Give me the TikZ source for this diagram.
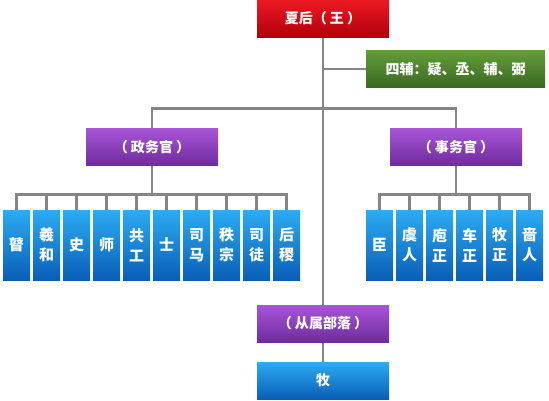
\documentclass[tikz,border=0pt]{standalone}
\usepackage{fontspec}
\setmainfont{Noto Sans CJK SC}
\usetikzlibrary{backgrounds}
\definecolor{redT}{HTML}{EC1A22}
\definecolor{redB}{HTML}{B0000C}
\definecolor{grnT}{HTML}{629C3C}
\definecolor{grnB}{HTML}{3B6A1F}
\definecolor{purT}{HTML}{A855D6}
\definecolor{purB}{HTML}{6E2C9E}
\definecolor{bluT}{HTML}{2CACF2}
\definecolor{bluB}{HTML}{0A5EB6}
\definecolor{lineC}{HTML}{858585}
\begin{document}
\begin{tikzpicture}[x=1pt,y=-1pt,
  box/.style={minimum width=132pt,minimum height=37pt,inner sep=0pt,text=white,font=\fontsize{14}{16}\selectfont\bfseries},
  redbox/.style={box,top color=redT,bottom color=redB},
  grnbox/.style={box,minimum width=179pt,top color=grnT,bottom color=grnB},
  purbox/.style={box,top color=purT,bottom color=purB},
  blubox/.style={box,top color=bluT,bottom color=bluB},
  leaf/.style={minimum width=27pt,minimum height=70pt,inner sep=0pt,text=white,align=center,
    font=\fontsize{15}{20}\selectfont\bfseries,top color=bluT,bottom color=bluB},
  conn/.style={draw=lineC,line width=2.8pt}]
\path[use as bounding box] (0,0) rectangle (549,400);
\node[redbox] (wang) at (323,18.5) {夏后（ 王 ）};
\node[grnbox] (sifu) at (455.5,69) {四辅：疑、丞、辅、弼};
\node[purbox] (zheng) at (152,147) {（ 政务官 ）};
\node[purbox] (shi) at (456,147) {（ 事务官 ）};
\node[purbox] (clan) at (323,323.5) {（ 从属部落 ）};
\node[blubox] (mu) at (323,380.5) {牧};
\foreach \t [count=\i] in {瞽,羲\\和,史,师,共\\工,士,司\\马,秩\\宗,司\\徒,后\\稷}
  \node[leaf] (l\i) at ({16.5+30*(\i-1)},245) {\t};
\foreach \t [count=\i] in {臣,虞\\人,庖\\正,车\\正,牧\\正,啬\\人}
  \node[leaf] (r\i) at ({379.5+30*(\i-1)},245) {\t};
\begin{scope}[on background layer]
\draw[conn] (wang.south) -- (clan.north);
\draw[conn] (sifu.west) -- (sifu.west -| wang.south);
\draw[conn] (zheng.north) -- ++(0,-20) -| (shi.north);
\draw[conn] (zheng.south) -- ++(0,29);
\draw[conn] (shi.south) -- ++(0,29);
\draw[conn] (l1.north) -- ++(0,-15) -| (l10.north);
\draw[conn] (r1.north) -- ++(0,-15) -| (r6.north);
\foreach \i in {2,...,9} \draw[conn] (l\i.north) -- ++(0,-15);
\foreach \i in {2,...,5} \draw[conn] (r\i.north) -- ++(0,-15);
\draw[conn] (clan.south) -- (mu.north);
\end{scope}
\end{tikzpicture}
\end{document}
